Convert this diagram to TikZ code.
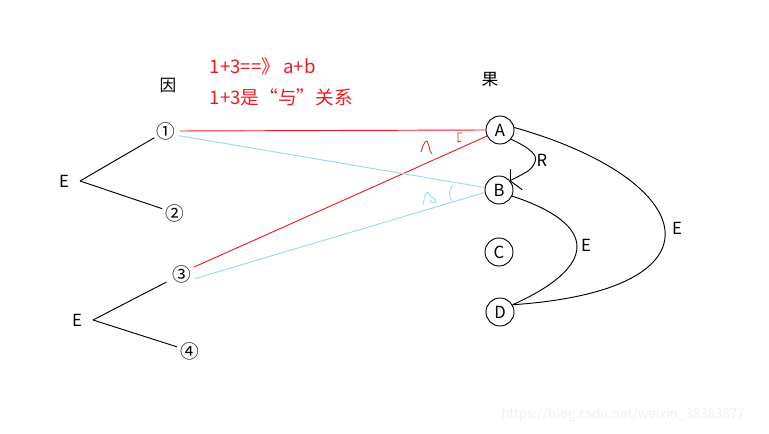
\documentclass[tikz,border=0pt]{standalone}
\usepackage{fontspec}
\setmainfont{Noto Sans CJK SC}
\definecolor{paintred}{RGB}{237,28,36}
\definecolor{paintblue}{RGB}{153,217,234}
\tikzset{
  state/.style={circle,draw,line width=0.7pt,minimum size=21pt,inner sep=0pt,font=\fontsize{12.5}{14}\selectfont},
  cause/.style={circle,inner sep=0.3pt,font=\fontsize{14}{15}\selectfont},
  lbl/.style={font=\fontsize{12.5}{14}\selectfont},
  conn/.style={line width=0.7pt},
}
\begin{document}
\begin{tikzpicture}[x=0.75pt,y=-0.75pt]
\useasboundingbox (0,0) rectangle (769,434);
% headings
\node[lbl] (yin) at (168,86) {因};
\node[lbl] (guo) at (490,80) {果};
\node[lbl,font=\fontsize{14}{16}\selectfont,text=paintred,anchor=west] (rule1) at (205,66) {1+3==》\,a+b};
\node[lbl,font=\fontsize{14}{16}\selectfont,text=paintred,anchor=west] (rule2) at (205,97) {1+3是“与”关系};

% causes
\node[cause] (n1) at (166,131) {①};
\node[cause] (n2) at (175,213) {②};
\node[cause] (n3) at (182,274) {③};
\node[cause] (n4) at (190,351) {④};
\node[lbl] (e1) at (64,181) {E};
\node[lbl] (e2) at (77,320) {E};
\coordinate (fork1) at (80,181);
\coordinate (fork2) at (93,320);
\draw[conn] (fork1) -- (n1);
\draw[conn] (fork1) -- (n2);
\draw[conn,shorten >=3pt] (fork2) -- (n3);
\draw[conn] (fork2) -- (n4);

% effects
\node[state] (A) at (500,130) {A};
\node[state] (B) at (499,190) {B};
\node[state] (C) at (499,252) {C};
\node[state] (D) at (500,312) {D};

% red: 1 and 3 -> A
\draw[conn,paintred] (n1.east) -- (A.west);
\draw[conn,paintred] (n3.30) -- (A.205);
\draw[paintred,line width=0.6pt] (421,152) -- (423,146) -- (425,142) -- (427,141) -- (429,146) -- (430,151) -- (432,154);
\draw[paintred,line width=0.6pt] (462,133) -- (458,133) -- (458,142) -- (461,141);
% blue: 1 and 3 -> B
\draw[conn,paintblue] (n1.-20) -- (B.170);
\draw[conn,paintblue] (n3.-20) -- (B.190);
\draw[paintblue,line width=0.6pt] (423,205) -- (425,195) -- (428,192) -- (431,197) -- (435,199) -- (436,202) -- (432,203) -- (430,200);
\draw[paintblue,line width=0.6pt] (453,185) .. controls (449,190) and (448,196) .. (452,201);

% links between effects
\coordinate (tip) at (B.40);
\draw[conn] (A.-40) .. controls (530,148) and (538,155) .. (535,162) .. controls (531,170) .. (tip);
\draw[conn] (tip) -- ++(0,-12);
\draw[conn] (tip) -- ++(12,9);
\node[lbl] (r) at (542,160) {R};
\draw[conn] (B.-25) .. controls (600,225) and (597,267) .. (D.30);
\node[lbl] (e3) at (586,245) {E};
\draw[conn] (A.10) .. controls (700,180) and (731,290) .. (D.30);
\node[lbl] (e4) at (677,228) {E};

\node[font=\fontsize{10}{12}\selectfont,text=black!6] (mark) at (623,415) {https://blog.csdn.net/weixin\_38383877};
\end{tikzpicture}
\end{document}
